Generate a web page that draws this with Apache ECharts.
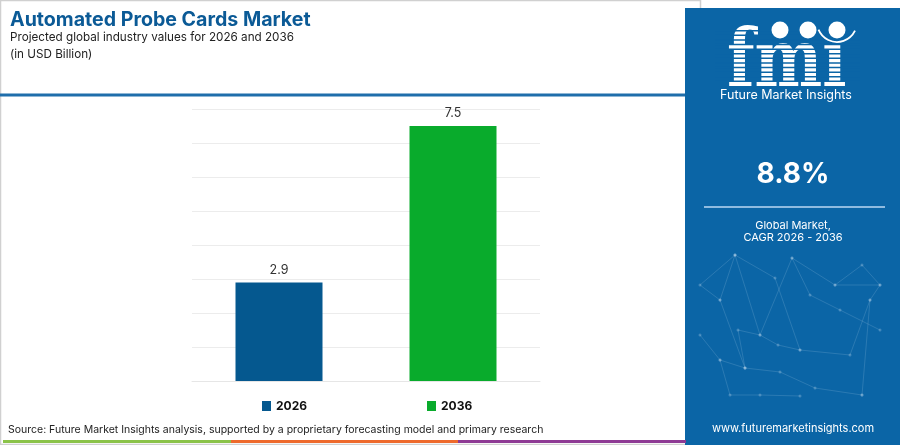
<!DOCTYPE html>
<html><head><meta charset="utf-8">
<script src="https://cdn.jsdelivr.net/npm/echarts@6/dist/echarts.min.js"></script>
<style>html,body{margin:0;padding:0;background:#fff}#c{width:900px;height:445px}</style>
</head><body><div id="c"></div>
<script>
const categories = ['2026', '2036'];
const seriesNames = ['2026', '2036'];
const values2026 = [2.9, '-'];
const values2036 = ['-', 7.5];
const colors = ['#05588f', '#09ab2c'];
const cagrText = '8.8%';

const chart = echarts.init(document.getElementById('c'));
const panelBlue = '#0b65a6';
const stripes = [];
for (let y = 30; y <= 82; y += 4.6) {
  stripes.push({type:'rect', shape:{x:715, y:y, width:145, height:1.5}, style:{fill:panelBlue}, z:12});
}
const net = [
  [[720,300],[735,255],[760,335],[792,258],[835,285],[880,285]],
  [[735,255],[775,278],[800,350],[850,355],[870,300]],
  [[700,335],[720,360],[745,368],[780,372],[815,388],[862,395]],
  [[745,368],[738,330],[760,335],[778,345],[800,350]],
  [[792,258],[810,295],[840,310],[880,330]],
  [[720,360],[730,395],[760,395],[800,396]],
  [[735,255],[700,285],[720,300],[745,368]],
  [[835,285],[862,265],[880,285],[870,300],[862,395]]
];
const netEls = net.map(p => ({type:'polyline', shape:{points:p}, style:{stroke:'rgba(170,205,230,0.2)', lineWidth:1, fill:null}, z:3}));
const dotEls = [];
net.forEach(p => p.forEach(q => dotEls.push({type:'circle', shape:{cx:q[0], cy:q[1], r:1.5}, style:{fill:'rgba(190,215,235,0.3)'}, z:3})));
chart.setOption({
  animation:false,
  textStyle:{fontFamily:'Inter'},
  grid:{left:192, right:360, top:109, bottom:64},
  xAxis:{type:'category', data:categories, axisLine:{show:true, lineStyle:{color:'#e6e6e6'}}, axisTick:{show:false}, axisLabel:{show:false}},
  yAxis:{type:'value', min:0, max:8, interval:1, axisLabel:{show:false}, axisLine:{show:false}, axisTick:{show:false}, splitLine:{lineStyle:{color:'#ececec'}}},
  legend:[
    {data:[seriesNames[0]], left:257, top:395, icon:'rect', itemWidth:9, itemHeight:10, itemGap:5, textStyle:{fontWeight:'bold', fontSize:12, color:'#111', fontFamily:'Inter'}},
    {data:[seriesNames[1]], left:422, top:395, icon:'rect', itemWidth:9, itemHeight:10, itemGap:5, textStyle:{fontWeight:'bold', fontSize:12, color:'#111', fontFamily:'Inter'}}
  ],
  series:[
    {name:seriesNames[0], type:'bar', stack:'s', data:values2026, barWidth:87, itemStyle:{color:colors[0]}, label:{show:true, position:'top', distance:6, fontSize:12.5, color:'#333', fontFamily:'Inter'}},
    {name:seriesNames[1], type:'bar', stack:'s', data:values2036, barWidth:87, itemStyle:{color:colors[1]}, label:{show:true, position:'top', distance:6, fontSize:12.5, color:'#333', fontFamily:'Inter'}}
  ],
  graphic:[
    {type:'rect', shape:{x:0.5, y:0.5, width:700, height:444}, style:{fill:null, stroke:'#d0d0d0', lineWidth:1.5}, z:1},
    {type:'rect', shape:{x:0, y:93.5, width:686, height:3}, style:{fill:'#1f6eab'}, z:2},
    {type:'text', left:10, top:10, style:{text:'Automated Probe Cards Market', font:'bold 19.6px Inter', fill:'#0b5a96'}, z:5},
    {type:'text', left:10, top:31, style:{text:'Projected global industry values for 2026 and 2036', font:'11.7px Inter', fill:'#222'}, z:5},
    {type:'text', left:10, top:48, style:{text:'(in USD Billion)', font:'11.7px Inter', fill:'#222'}, z:5},
    {type:'text', left:8, top:424, style:{text:'Source: Future Market Insights analysis, supported by a proprietary forecasting model and primary research', font:'10.5px Inter', fill:'#222'}, z:5},
    {type:'rect', shape:{x:3, y:440, width:228, height:3}, style:{fill:'#8bc34a'}, z:5},
    {type:'rect', shape:{x:231, y:440, width:227, height:3}, style:{fill:'#ee6a2c'}, z:5},
    {type:'rect', shape:{x:458, y:440, width:228, height:3}, style:{fill:'#8e3a94'}, z:5},
    {type:'rect', shape:{x:685, y:8, width:215, height:437}, style:{fill:panelBlue}, z:2},
    ...netEls,
    ...dotEls,
    {type:'text', x:727, y:105.5, scaleX:0.8, style:{text:'fmı', font:'bold 80px "DejaVu Serif"', fill:'#fff', verticalAlign:'bottom'}, z:10},
    ...stripes,
    {type:'circle', shape:{cx:780, cy:30, r:8.5}, style:{fill:'#fff'}, z:13},
    {type:'circle', shape:{cx:808, cy:30, r:8.5}, style:{fill:'#fff'}, z:13},
    {type:'circle', shape:{cx:837, cy:30, r:8.5}, style:{fill:'#fff'}, z:13},
    {type:'arc', shape:{cx:837, cy:22, r:20, startAngle:0.45, endAngle:2.75}, style:{stroke:'#fff', lineWidth:1.8, fill:null}, z:13},
    {type:'text', x:786, y:95, style:{text:'Future Market Insights', font:'12.5px Inter', fill:'#fff', align:'center', verticalAlign:'middle'}, z:13},
    {type:'text', x:793, y:175, style:{text:cagrText, font:'bold 28px Inter', fill:'#fff', align:'center', verticalAlign:'middle'}, z:13},
    {type:'rect', shape:{x:704, y:206, width:181, height:2}, style:{fill:'#8fbbe0'}, z:13},
    {type:'text', x:793, y:226, style:{text:'Global Market,', font:'11px Inter', fill:'#fff', align:'center', verticalAlign:'middle'}, z:13},
    {type:'text', x:793, y:238, style:{text:'CAGR 2026 - 2036', font:'11px Inter', fill:'#fff', align:'center', verticalAlign:'middle'}, z:13},
    {type:'text', x:793, y:429, style:{text:'www.futuremarketinsights.com', font:'11px Inter', fill:'#fff', align:'center', verticalAlign:'middle'}, z:13}
  ]
});
</script></body></html>
